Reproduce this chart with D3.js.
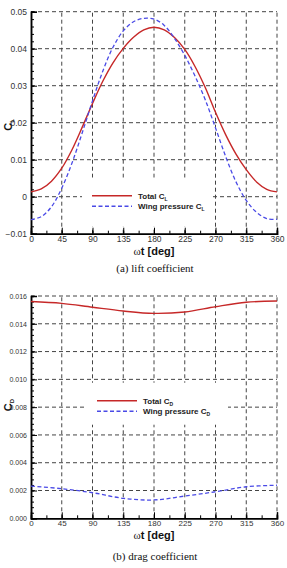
<!DOCTYPE html>
<html>
<head>
<meta charset="utf-8">
<script src="https://cdn.jsdelivr.net/npm/d3@7"></script>
<style>
  body { margin: 0; background: #fff; }
  svg { display: block; }
  .tick text { font-family: "Liberation Sans", Arial, sans-serif; fill: #333; }
</style>
</head>
<body>
<div id="chart"></div>
<script>
var width = 287, height = 568;

// phase angle, deg
var angles = [0, 15, 30, 45, 60, 75, 90, 105, 120, 135, 150, 165, 180,
              195, 210, 225, 240, 255, 270, 285, 300, 315, 330, 345, 360];

// lift coefficient
var totalCL = [0.0013, 0.0021, 0.0042, 0.0077, 0.0127, 0.0188, 0.0252, 0.0312, 0.0362, 0.0401, 0.0431, 0.0451, 0.0458,
               0.0451, 0.0430, 0.0398, 0.0352, 0.0295, 0.0228, 0.0167, 0.0115, 0.0073, 0.0040, 0.0020, 0.0013];
var wingCL = [-0.0062, -0.0054, -0.0027, 0.0023, 0.0091, 0.0173, 0.0259, 0.0339, 0.0404, 0.0448, 0.0473, 0.0482, 0.0480,
              0.0463, 0.0428, 0.0382, 0.0326, 0.0262, 0.0186, 0.0108, 0.0040, -0.0010, -0.0042, -0.0059, -0.0061];

// drag coefficient
var dragAngles = [0, 45, 90, 135, 180, 225, 270, 315, 360];
var totalCD = [0.01560, 0.01547, 0.01519, 0.01492, 0.01475, 0.01485, 0.01523, 0.01555, 0.01564];
var wingCD = [0.00232, 0.00213, 0.00184, 0.00144, 0.00132, 0.00160, 0.00191, 0.00227, 0.00238];

var xTicks = [0, 45, 90, 135, 180, 225, 270, 315, 360];
var xMinor = d3.range(0, 361, 22.5);
var liftTicks = [-0.01, 0, 0.01, 0.02, 0.03, 0.04, 0.05];
var liftMinor = d3.range(-0.01, 0.0501, 0.002);
var dragTicks = [0, 0.002, 0.004, 0.006, 0.008, 0.010, 0.012, 0.014, 0.016];
var dragMinor = d3.range(0, 0.01601, 0.0004);

var red = '#c62828', blue = '#4a4ae6';

var svg = d3.select('#chart').append('svg')
    .attr('width', width)
    .attr('height', height);

function panel(opt) {
    var x = d3.scaleLinear().domain([0, 360]).range([31, 277]);
    var y = d3.scaleLinear().domain(opt.domain).range(opt.range);
    var g = svg.append('g');

    // dashed grid
    g.append('g').selectAll('line').data(xTicks.slice(1)).enter().append('line')
        .attr('x1', (d) => x(d)).attr('x2', (d) => x(d))
        .attr('y1', y.range()[0]).attr('y2', y.range()[1])
        .attr('stroke', '#444').attr('stroke-width', 1).attr('stroke-dasharray', '4,3');
    g.append('g').selectAll('line').data(opt.ticks.slice(1)).enter().append('line')
        .attr('x1', x(0)).attr('x2', x(360))
        .attr('y1', (d) => y(d)).attr('y2', (d) => y(d))
        .attr('stroke', '#444').attr('stroke-width', 1).attr('stroke-dasharray', '4,3');

    // legend background hides the grid
    g.append('rect')
        .attr('x', opt.legend.x - 10).attr('y', opt.legend.y - 18)
        .attr('width', opt.legend.w).attr('height', opt.legend.h)
        .attr('fill', '#fff');

    // axes with inward ticks
    var yAxis = d3.axisLeft(y).tickValues(opt.ticks).tickFormat(opt.fmt).tickSize(-6).tickPadding(4);
    var yMinor = d3.axisLeft(y).tickValues(opt.minor).tickFormat('').tickSize(-3);
    var xAxis = d3.axisBottom(x).tickValues(xTicks).tickFormat(d3.format('d')).tickSize(-6).tickPadding(2);
    var xMin = d3.axisBottom(x).tickValues(xMinor).tickFormat('').tickSize(-3);

    var ya = g.append('g').attr('transform', 'translate(' + x(0) + ',0)').call(yAxis);
    g.append('g').attr('transform', 'translate(' + x(0) + ',0)').call(yMinor);
    var xa = g.append('g').attr('transform', 'translate(0,' + y.range()[0] + ')').call(xAxis);
    g.append('g').attr('transform', 'translate(0,' + y.range()[0] + ')').call(xMin);
    g.selectAll('.domain').attr('stroke', '#000').attr('stroke-width', 1.5);
    g.selectAll('.tick line').attr('stroke', '#000');
    ya.selectAll('text').style('font-size', opt.yFont + 'px');
    xa.selectAll('text').style('font-size', opt.xFont + 'px');

    // curves
    var line = d3.line()
        .x((d) => x(d[0]))
        .y((d) => y(d[1]))
        .curve(d3.curveCatmullRom.alpha(0.5));
    g.append('path').datum(d3.zip(opt.xs, opt.total))
        .attr('d', line).attr('fill', 'none').attr('stroke', red).attr('stroke-width', 1.4);
    g.append('path').datum(d3.zip(opt.xs, opt.wing))
        .attr('d', line).attr('fill', 'none').attr('stroke', blue).attr('stroke-width', 1.3)
        .attr('stroke-dasharray', '4,2.5');

    // legend
    var lg = g.append('g').attr('transform', 'translate(' + opt.legend.x + ',' + opt.legend.y + ')');
    var items = [['Total C', red, null], ['Wing pressure C', blue, '4,2.5']];
    items.forEach(function (it, i) {
        lg.append('line').attr('x1', 0).attr('x2', 40).attr('y1', i * 10.5).attr('y2', i * 10.5)
            .attr('stroke', it[1]).attr('stroke-width', 1.4).attr('stroke-dasharray', it[2]);
        var t = lg.append('text').attr('x', 46).attr('y', i * 10.5 + 3)
            .style('font-family', '"Liberation Sans", Arial, sans-serif')
            .style('font-weight', 'bold').style('font-size', '8px').attr('fill', '#222');
        t.append('tspan').text(it[0]);
        t.append('tspan').attr('dy', 2).style('font-size', '5px').text(opt.sub);
    });

    // x title
    var xt = svg.append('text').attr('x', 154).attr('y', y.range()[0] + 21)
        .attr('text-anchor', 'middle').style('font-size', '11px').attr('fill', '#111');
    xt.append('tspan').style('font-family', '"Liberation Serif", serif').text('ω');
    xt.append('tspan').style('font-family', '"Liberation Sans", Arial, sans-serif')
        .style('font-weight', 'bold').text('t [deg]');

    // y title
    var ytl = svg.append('text')
        .attr('transform', 'translate(12,' + opt.yTitle + ') rotate(-90)')
        .attr('text-anchor', 'middle')
        .style('font-family', '"Liberation Sans", Arial, sans-serif')
        .style('font-weight', 'bold').style('font-size', '11px').attr('fill', '#111');
    ytl.append('tspan').text('C');
    ytl.append('tspan').attr('dy', 2).style('font-size', '6px').text(opt.sub);

    // caption
    svg.append('text').attr('x', 155).attr('y', opt.caption)
        .attr('text-anchor', 'middle')
        .style('font-family', '"Liberation Serif", "Times New Roman", serif')
        .style('font-size', '11px').attr('fill', '#111')
        .text(opt.title);
}

panel({
    domain: [-0.01, 0.05], range: [233.7, 11.7],
    ticks: liftTicks, minor: liftMinor,
    fmt: (d) => d === 0 ? '0' : d3.format('.2f')(d),
    xs: angles, total: totalCL, wing: wingCL,
    legend: { x: 92, y: 195.7, w: 130, h: 49 },
    sub: 'L', yFont: 8.5, xFont: 8.5, yTitle: 125,
    caption: 272, title: '(a) lift coefficient'
});

panel({
    domain: [0, 0.016], range: [518.3, 296],
    ticks: dragTicks, minor: dragMinor,
    fmt: d3.format('.3f'),
    xs: dragAngles, total: totalCD, wing: wingCD,
    legend: { x: 97, y: 400.7, w: 141, h: 42 },
    sub: 'D', yFont: 7, xFont: 8, yTitle: 405,
    caption: 560, title: '(b) drag coefficient'
});
</script>
</body>
</html>
